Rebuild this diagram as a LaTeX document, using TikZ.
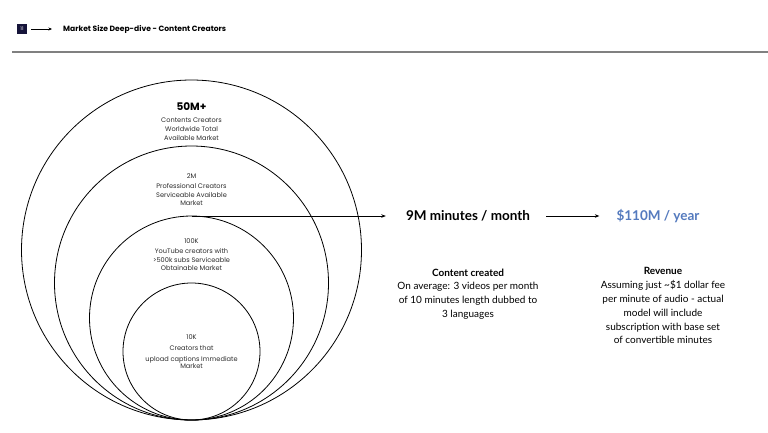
\documentclass[tikz,border=0pt]{standalone}
\usepackage{fontspec}
\setmainfont{Lato}
\newfontfamily\geo{Poppins}
\usetikzlibrary{arrows.meta}
\definecolor{navy}{RGB}{22,20,58}
\definecolor{rev}{RGB}{84,122,190}
\definecolor{ctext}{RGB}{45,45,45}
\definecolor{rule}{RGB}{128,128,128}
\begin{document}
\begin{tikzpicture}[x=1pt,y=-1pt,
  ring/.style={circle, draw=black, line width=0.8pt, inner sep=0pt, outer sep=0pt},
  ctxt/.style={align=center, text=ctext, inner sep=0pt, font=\geo\fontsize{6.6}{8.8}\selectfont},
  chead/.style={align=center, text=ctext, inner sep=0pt, font=\geo\fontsize{6.6}{7}\selectfont},
  big/.style={inner sep=0pt, font=\bfseries\fontsize{13.5}{16}\selectfont},
  para/.style={align=center, inner sep=0pt, anchor=north, text=black, font=\fontsize{10}{13.8}\selectfont},
  arr/.style={-{Stealth[length=4.5pt,width=3.5pt]}, line width=0.8pt}
]
\useasboundingbox[fill=white] (0,0) rectangle (768,432);

% header
\node[fill=navy, text=white, minimum size=10pt, inner sep=0pt, font=\geo\fontsize{4.8}{5}\selectfont] (num) at (22,29) {11};
\node[anchor=west, inner sep=0pt, font=\geo\bfseries\fontsize{7.6}{9}\selectfont] (title) at (63,29) {Market Size Deep-dive - Content Creators};
\draw[-{Stealth[length=3.5pt,width=3pt]}, line width=0.6pt, shorten <=4pt, shorten >=11pt] (num.east) -- (title.west);
\draw[rule, line width=1.2pt] (12,52) -- (768,52);

% circles
\node[ring, minimum size=340pt] (c1) at (191.5,250) {};
\node[ring, minimum size=274pt] (c2) at (191.5,283) {};
\node[ring, minimum size=204pt] (c3) at (191.5,318) {};
\node[ring, minimum size=137pt] (c4) at (191.5,351.5) {};

% circle labels
\node[inner sep=0pt, font=\geo\bfseries\fontsize{10.5}{12}\selectfont] (h1) at (191.5,107) {50M+};
\node[ctxt, anchor=north] (t1) at (191.5,118) {Contents Creators\\Worldwide Total\\Available Market};
\node[chead] (h2) at (191.5,176) {2M};
\node[ctxt, anchor=north] (t2) at (191.5,183) {Professional Creators\\Serviceable Available\\Market};
\node[chead] (h3) at (191.5,241) {100K};
\node[ctxt, anchor=north] (t3) at (191.5,248) {YouTube creators with\\>500k subs Serviceable\\Obtainable Market};
\node[chead] (h4) at (191.5,337) {10K};
\node[ctxt, anchor=north] (t4a) at (191.5,345) {Creators that};
\node[ctxt, anchor=north] (t4) at (191.5,356) {upload captions Immediate\\[-1.5pt]Market};

% main flow
\node[big] (m) at (468,216) {9M minutes / month};
\node[big, text=rev] (r) at (658,216) {\$110M / year};
\draw[arr] (c3.north) -- ([xshift=-20pt]m.west);
\draw[arr, shorten <=16pt, shorten >=17pt] (m.east) -- (r.west);

% paragraphs
\node[para] (p1) at (468,268.5) {\textbf{Content created}\\On average: 3 videos per month\\of 10 minutes length dubbed to\\3 languages};
\node[para] (p2) at (663,267.5) {\textbf{Revenue}\\Assuming just \textasciitilde\$1 dollar fee\\per minute of audio - actual\\model will include\\subscription with base set\\of convertible minutes};
\end{tikzpicture}
\end{document}
